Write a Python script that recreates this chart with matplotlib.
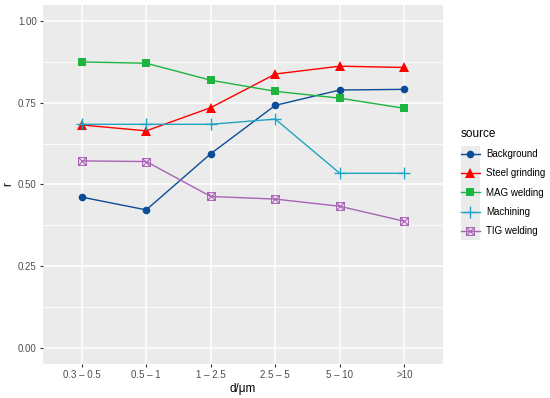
import matplotlib
matplotlib.use("Agg")
import matplotlib.pyplot as plt
from matplotlib.path import Path
from matplotlib.lines import Line2D

plt.rcParams['font.family'] = ['Liberation Sans', 'DejaVu Sans']

# data
categories = ["0.3 – 0.5", "0.5 – 1", "1 – 2.5", "2.5 – 5", "5 – 10", ">10"]
background = [0.461, 0.422, 0.594, 0.742, 0.789, 0.791]
steel_grinding = [0.682, 0.664, 0.735, 0.838, 0.862, 0.858]
mag_welding = [0.875, 0.871, 0.819, 0.785, 0.764, 0.733]
machining = [0.684, 0.684, 0.684, 0.700, 0.534, 0.534]
tig_welding = [0.572, 0.570, 0.463, 0.455, 0.433, 0.387]

source_names = ["Background", "Steel grinding", "MAG welding", "Machining", "TIG welding"]
source_values = [background, steel_grinding, mag_welding, machining, tig_welding]
colors = ["#0A4C97", "#FF0000", "#1DB540", "#1FA5C3", "#A864B4"]

# square with an X (ggplot shape 7)
boxcross = Path(
    [(-1, -1), (1, -1), (1, 1), (-1, 1), (-1, -1), (-1, -1), (1, 1), (-1, 1), (1, -1)],
    [Path.MOVETO, Path.LINETO, Path.LINETO, Path.LINETO, Path.CLOSEPOLY,
     Path.MOVETO, Path.LINETO, Path.MOVETO, Path.LINETO])

styles = [
    dict(marker='o', markersize=5.5, mew=0),
    dict(marker='^', markersize=7, mew=0),
    dict(marker='s', markersize=5.2, mew=0),
    dict(marker='+', markersize=8, mew=1.0),
    dict(marker=boxcross, markersize=5.6, mfc='none', mew=0.8),
]

fig = plt.figure(figsize=(5.5, 3.98), dpi=100)
ax = fig.add_axes([0.0782, 0.0854, 0.7273, 0.9026])
ax.set_facecolor('#EBEBEB')

x = list(range(len(categories)))
handles = []
for name, vals, col, st in zip(source_names, source_values, colors, styles):
    st = dict(st)
    mfc = st.pop('mfc', col)
    h, = ax.plot(x, vals, color=col, lw=1.0, mfc=mfc, mec=col, label=name,
                 zorder=3, **st)
    handles.append(h)

ax.set_xlim(-0.6, len(categories) - 0.4)
ax.set_ylim(-0.05, 1.05)
ax.set_xticks(x)
ax.set_xticklabels(categories)
ax.set_yticks([0, 0.25, 0.5, 0.75, 1.0])
ax.set_yticklabels(["0.00", "0.25", "0.50", "0.75", "1.00"])
ax.set_yticks([0.125, 0.375, 0.625, 0.875], minor=True)
ax.grid(True, which='major', color='white', lw=1.1)
ax.grid(True, which='minor', axis='y', color='white', lw=0.55)
ax.set_axisbelow(True)
for s in ax.spines.values():
    s.set_visible(False)
ax.tick_params(which='major', length=2.5, width=0.8, color='#333333',
               labelcolor='#4D4D4D', labelsize=7, pad=2)
ax.tick_params(which='minor', length=0)
ax.set_xlabel("d/μm", fontsize=8.5, labelpad=2)
ax.set_ylabel("r", fontsize=8.5, labelpad=3)

# legend with grey key boxes
key_bg = fig.add_axes([461 / 550, 1 - 240 / 398, 19 / 550, 94 / 398])
key_bg.set_facecolor('#EBEBEB')
key_bg.set_xticks([])
key_bg.set_yticks([])
for s in key_bg.spines.values():
    s.set_visible(False)

leg_handles = []
for h in handles:
    leg_handles.append(Line2D([], [], color=h.get_color(), lw=1.0,
                              marker=h.get_marker(), markersize=h.get_markersize(),
                              mfc=h.get_markerfacecolor(), mec=h.get_markeredgecolor(),
                              mew=h.get_markeredgewidth()))
leg = fig.legend(leg_handles, source_names, loc='upper left',
                 bbox_to_anchor=(461 / 550, 1 - 128 / 398), frameon=False,
                 fontsize=7, title="source", title_fontsize=8.5,
                 handlelength=1.95, handletextpad=0.6, labelspacing=0.95,
                 borderaxespad=0, borderpad=0)
leg._legend_box.align = "left"

fig.savefig("out.png", dpi=100)
